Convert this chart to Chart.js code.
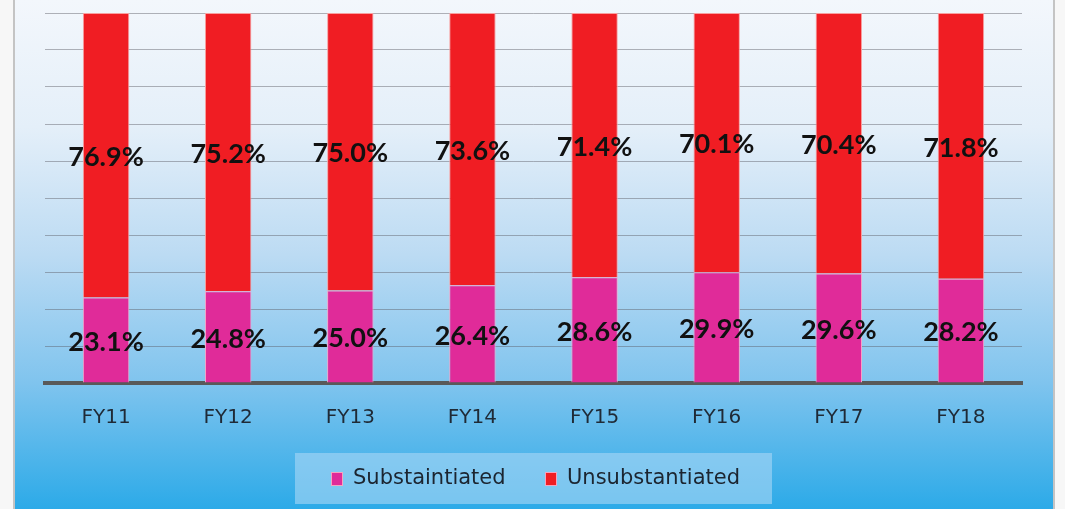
<!DOCTYPE html>
<html>
<head>
<meta charset="utf-8">
<script src="https://cdn.jsdelivr.net/npm/chart.js@4"></script>
<style>
  html, body { margin: 0; padding: 0; background: #f7f7f7; }
  #wrap { position: relative; width: 1065px; height: 509px; overflow: hidden; }
  #bg {
    position: absolute; left: 13px; top: 0; width: 1038px; height: 509px;
    border-left: 2px solid #c4c4c4; border-right: 2px solid #c4c4c4;
    background: linear-gradient(to bottom, #f3f7fc 0%, #e4eff9 25%, #bcdbf3 50%, #80c4ee 75%, #2caae8 100%);
  }
  canvas { position: absolute; left: 0; top: 0; }
</style>
</head>
<body>
<div id="wrap">
  <div id="bg"></div>
  <canvas id="chart" width="1065" height="509"></canvas>
</div>
<script>
const years = ['FY11', 'FY12', 'FY13', 'FY14', 'FY15', 'FY16', 'FY17', 'FY18'];
const substantiated = [23.1, 24.8, 25.0, 26.4, 28.6, 29.9, 29.6, 28.2];
const unsubstantiated = [76.9, 75.2, 75.0, 73.6, 71.4, 70.1, 70.4, 71.8];
const seriesNames = ['Substaintiated', 'Unsubstantiated'];
const seriesColors = ['#e02b99', '#f01d23'];

// labels in the middle of each segment
const valueLabels = {
  id: 'valueLabels',
  afterDatasetsDraw(chart) {
    const ctx = chart.ctx;
    chart.data.datasets.forEach((ds, i) => {
      chart.getDatasetMeta(i).data.forEach((bar, j) => {
        const y = (bar.y + bar.base) / 2;
        ctx.save();
        ctx.font = 'bold 27px Lato';
        ctx.fillStyle = '#111';
        ctx.textAlign = 'center';
        ctx.textBaseline = 'middle';
        ctx.fillText(ds.data[j].toFixed(1) + '%', bar.x, y + 2);
        ctx.restore();
      });
    });
  }
};

// legend drawn in a light box under the axis
const boxLegend = {
  id: 'boxLegend',
  afterDraw(chart) {
    const ctx = chart.ctx;
    ctx.save();
    ctx.fillStyle = 'rgba(170,215,245,0.6)';
    ctx.fillRect(295, 453, 477, 51);
    ctx.font = '21px "DejaVu Sans"';
    ctx.textBaseline = 'middle';
    let x = 331;
    chart.data.datasets.forEach((ds, i) => {
      ctx.fillStyle = ds.backgroundColor;
      ctx.strokeStyle = '#f5a3c0';
      ctx.fillRect(x, 472, 12, 14);
      ctx.strokeRect(x + 0.5, 472.5, 11, 13);
      ctx.fillStyle = '#1c2530';
      ctx.fillText(ds.label, x + 22, 479);
      x += 214;
    });
    ctx.restore();
  }
};

new Chart(document.getElementById('chart'), {
  type: 'bar',
  data: {
    labels: years,
    datasets: [
      { label: seriesNames[0], data: substantiated, backgroundColor: seriesColors[0], borderColor: '#f3a5c8', borderWidth: 1 },
      { label: seriesNames[1], data: unsubstantiated, backgroundColor: seriesColors[1], borderColor: '#f7a0a0', borderWidth: 1 }
    ]
  },
  options: {
    responsive: false,
    animation: false,
    layout: { padding: { left: 45, right: 43, top: 13, bottom: 0 } },
    datasets: { bar: { categoryPercentage: 1, barPercentage: 0.38 } },
    plugins: { legend: { display: false }, tooltip: { enabled: false } },
    scales: {
      x: {
        stacked: true,
        grid: { display: false },
        border: { display: true, color: '#595959', width: 4 },
        ticks: { color: '#1f2a36', font: { family: 'DejaVu Sans', size: 20 }, padding: 15 },
        afterFit(scale) { scale.height = 126; }
      },
      y: {
        stacked: true,
        min: 0,
        max: 100,
        ticks: { display: false, stepSize: 10 },
        grid: { color: 'rgba(90,90,100,0.45)', drawTicks: false },
        border: { display: false },
        afterFit(scale) { scale.width = 0; }
      }
    }
  },
  plugins: [valueLabels, boxLegend]
});
</script>
</body>
</html>
